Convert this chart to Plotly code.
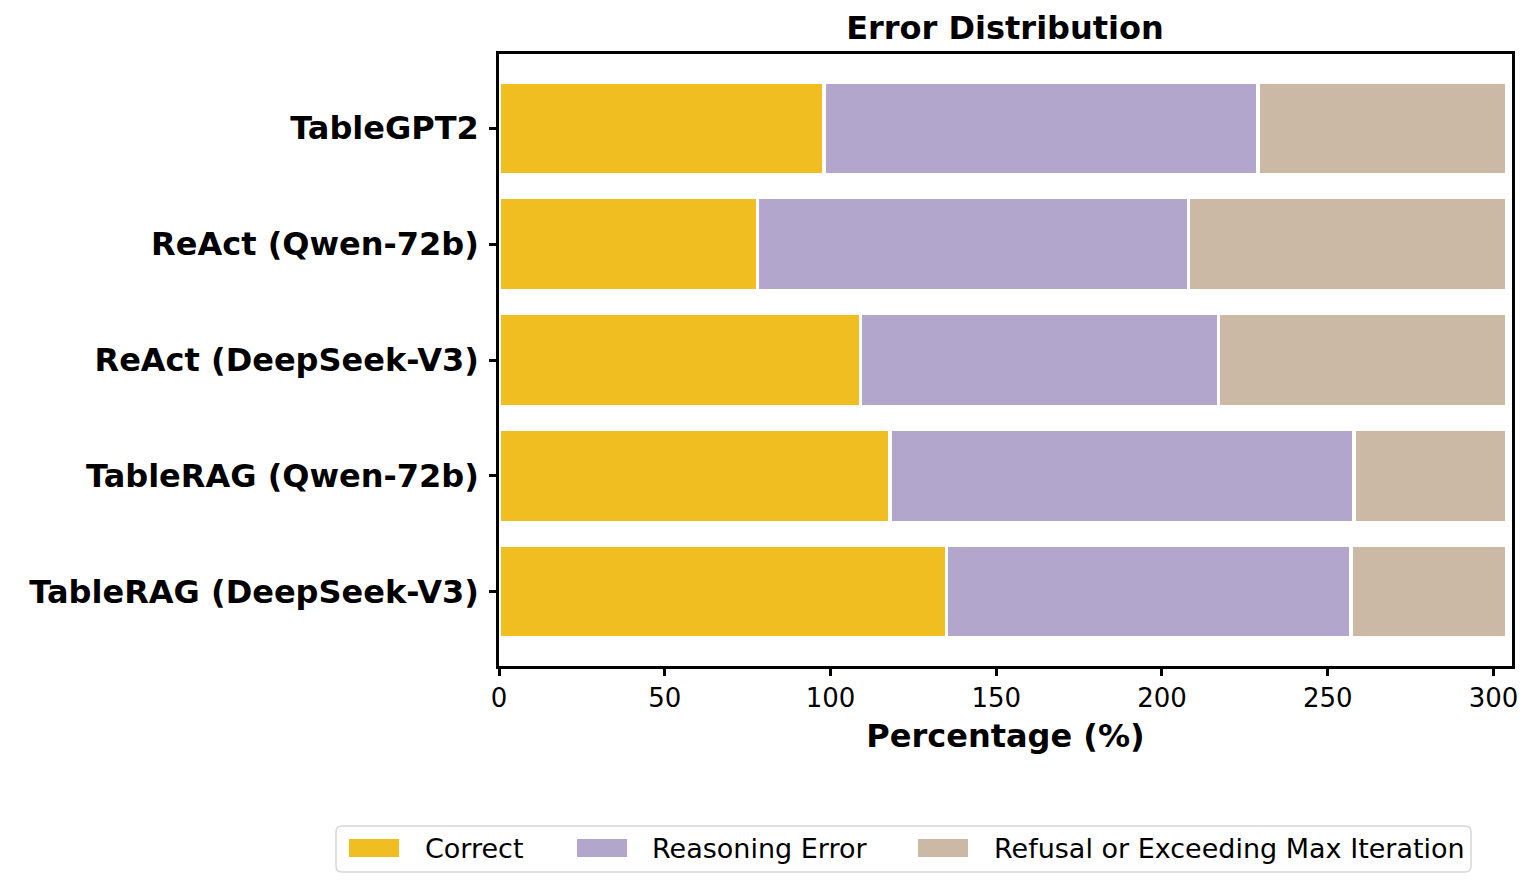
import plotly.graph_objects as go

# ---- data (top to bottom as displayed) ----
categories = ["TableGPT2", "ReAct (Qwen-72b)", "ReAct (DeepSeek-V3)",
              "TableRAG (Qwen-72b)", "TableRAG (DeepSeek-V3)"]
correct = [98, 78, 109, 118, 135]
reasoning_error = [131, 130, 108, 140, 122]
refusal = [75, 96, 87, 46, 47]
series_names = ["Correct", "Reasoning Error", "Refusal or Exceeding Max Iteration"]
x_ticks = [0, 50, 100, 150, 200, 250, 300]

colors = ["#F1BE22", "#B2A6CC", "#CBB9A5"]

FONT = "DejaVu Sans"
OFF = 8  # page body margin offset
W_FIG, H_FIG = 1538, 890
# target plot area in page pixels: x 499-1512, y 54-666
L = 499 - OFF
T = 54 - OFF
R = W_FIG - (1512 - OFF)
B = H_FIG - (666 - OFF)
PW = W_FIG - L - R
PH = H_FIG - T - B


def px_x(px):
    return (px - OFF - L) / PW


def px_y(py):
    return (H_FIG - B - (py - OFF)) / PH


fig = go.Figure()
series = [correct, reasoning_error, refusal]
for name, vals, col in zip(series_names, series, colors):
    fig.add_trace(go.Bar(
        y=categories, x=vals, name=name, orientation="h",
        marker=dict(color=col, line=dict(color="white", width=3.5)),
        showlegend=False,
    ))

fig.update_layout(
    barmode="stack",
    bargap=0.2,
    width=W_FIG, height=H_FIG,
    margin=dict(l=L, r=R, t=T, b=B),
    plot_bgcolor="white", paper_bgcolor="white",
    font=dict(family=FONT, color="black"),
    title=dict(text="<b>Error Distribution</b>", x=px_x(1005), xref="paper",
               xanchor="center", y=1 - (28 - OFF) / H_FIG, yref="container",
               yanchor="middle", font=dict(size=32, family=FONT, color="black")),
)

fig.update_xaxes(
    range=[0, 305.6], tickvals=x_ticks, ticktext=[str(v) for v in x_ticks],
    showgrid=False, zeroline=False,
    showline=True, linecolor="black", linewidth=2.5, mirror=True,
    ticks="outside", ticklen=7, tickwidth=2.5, tickcolor="black",
    tickfont=dict(size=26, family=FONT, color="black"),
    title=dict(text="<b>Percentage (%)</b>", standoff=13,
               font=dict(size=32, family=FONT, color="black")),
)
fig.update_yaxes(
    categoryorder="array", categoryarray=categories[::-1],
    range=[-0.64, 4.64],
    showgrid=False, zeroline=False,
    showline=True, linecolor="black", linewidth=2.5, mirror=True,
    ticks="outside", ticklen=7, tickwidth=2.5, tickcolor="black",
    ticklabelstandoff=4,
    tickfont=dict(size=32, family=FONT, color="black"),
    tickprefix="<b>", ticksuffix="</b>",
)

# ---- legend drawn manually to match swatch shapes ----
bx0, bx1, by0, by1 = px_x(336), px_x(1471), px_y(826), px_y(872)
rx = 6 / PW
ry = 6 / PH
path = (f"M {bx0+rx},{by0} L {bx1-rx},{by0} Q {bx1},{by0} {bx1},{by0-ry} "
        f"L {bx1},{by1+ry} Q {bx1},{by1} {bx1-rx},{by1} "
        f"L {bx0+rx},{by1} Q {bx0},{by1} {bx0},{by1+ry} "
        f"L {bx0},{by0-ry} Q {bx0},{by0} {bx0+rx},{by0} Z")
fig.add_shape(type="path", path=path, xref="paper", yref="paper",
              line=dict(color="#D6D6D6", width=1.5), fillcolor="white", layer="above")

swatch_x = [349, 577, 918]
text_x = [423, 650, 992]
for sx, tx, name, col in zip(swatch_x, text_x, series_names, colors):
    fig.add_shape(type="rect", xref="paper", yref="paper",
                  x0=px_x(sx), x1=px_x(sx + 50), y0=px_y(857), y1=px_y(839),
                  fillcolor=col, line=dict(width=0), layer="above")
    fig.add_annotation(text=name, xref="paper", yref="paper",
                       x=px_x(tx), y=px_y(848), xanchor="left", yanchor="middle",
                       showarrow=False,
                       font=dict(size=27, family=FONT, color="black"))

fig.write_html("out.html")
